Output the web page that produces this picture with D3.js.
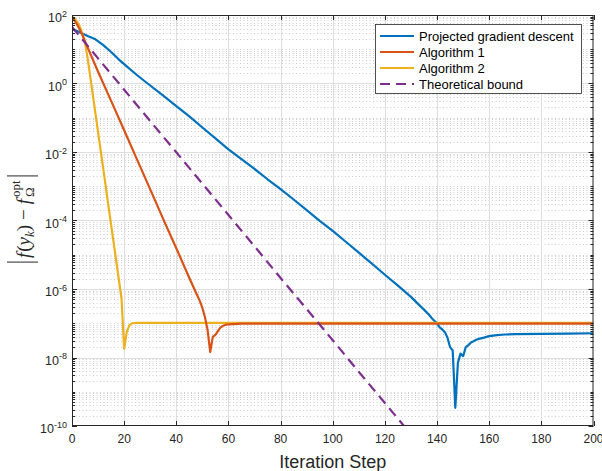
<!DOCTYPE html>
<html>
<head>
<meta charset="utf-8">
<script src="https://cdn.jsdelivr.net/npm/d3@7"></script>
<style>
body { margin: 0; background: #fff; }
svg { display: block; font-family: "Liberation Sans", Arial, Helvetica, sans-serif; }
</style>
</head>
<body>
<svg id="chart" width="602" height="471"></svg>
<script>
// values
const pgdX = [0, 3, 6, 9, 12, 15, 18, 21, 25, 29, 35, 40, 45, 50, 55, 60, 65, 70, 75, 80, 85, 90, 95, 100,
  105, 110, 115, 120, 125, 130, 133, 135, 137, 138, 139, 140, 141, 142, 143, 144, 145, 146, 147, 148, 149,
  150, 151, 152, 153, 154, 155, 156, 158, 160, 163, 166, 170, 180, 190, 200];
const pgdY = [3.8e1, 3.16e1, 2.45e1, 1.95e1, 1.32e1, 8.3e0, 5.0e0, 3.16e0, 1.74e0, 1.0e0, 4.4e-1, 2.2e-1,
  1.1e-1, 5.2e-2, 2.5e-2, 1.2e-2, 6.2e-3, 3.2e-3, 1.6e-3, 8.3e-4, 4.1e-4, 2.0e-4, 9.8e-5, 5.0e-5,
  2.4e-5, 1.15e-5, 5.5e-6, 2.6e-6, 1.26e-6, 5.9e-7, 3.5e-7, 2.5e-7, 1.74e-7, 1.4e-7, 1.17e-7, 1.0e-7,
  7.6e-8, 6.6e-8, 5.5e-8, 3.8e-8, 2.0e-8, 1.6e-8, 3.4e-10, 7.1e-9, 1.3e-8,
  1.1e-8, 2.0e-8, 2.3e-8, 2.75e-8, 3.0e-8, 3.3e-8, 3.5e-8, 3.8e-8, 4.2e-8, 4.5e-8, 4.7e-8, 4.8e-8, 4.9e-8, 5.0e-8, 5.1e-8];

const alg1X = [0, 1, 2, 3, 4, 5, 10, 15, 20, 25, 30, 35, 40, 45, 48, 49, 50, 51, 52, 53, 54, 55, 56, 57, 58, 59, 60, 65, 200];
const alg1Y = [8.3e1, 6.9e1, 5.2e1, 3.7e1, 2.6e1, 1.7e1, 2.2e0, 3.1e-1, 4.3e-2, 5.9e-3, 8.1e-4, 1.1e-4,
  1.55e-5, 2.1e-6, 6.6e-7, 4.5e-7, 2.8e-7, 1.5e-7, 6.3e-8, 1.45e-8, 4.0e-8, 4.6e-8, 6.0e-8, 7.6e-8,
  8.5e-8, 9.1e-8, 9.3e-8, 9.7e-8, 9.7e-8];

const alg2X = [0, 1, 2, 3, 4, 5, 6, 8, 10, 12, 14, 16, 18, 19, 20, 21, 22, 23, 25, 200];
const alg2Y = [8.9e1, 7.8e1, 6.3e1, 4.6e1, 2.8e1, 1.5e1, 5.5e0, 4.6e-1, 3.8e-2, 3.2e-3, 2.6e-4, 2.2e-5,
  1.8e-6, 5.2e-7, 1.8e-8, 5.6e-8, 8.7e-8, 1.0e-7, 1.02e-7, 1.02e-7];

const boundX = [0, 10, 20, 30, 40, 50, 60, 70, 80, 90, 100, 110, 120, 130];
const boundY = [4.5e1, 5.4e0, 6.6e-1, 8.0e-2, 9.8e-3, 1.19e-3, 1.45e-4, 1.76e-5, 2.1e-6, 2.6e-7, 3.2e-8,
  3.8e-9, 4.7e-10, 5.7e-11];

const seriesNames = ["Projected gradient descent", "Algorithm 1", "Algorithm 2", "Theoretical bound"];
const seriesColors = ["#0072BD", "#D95319", "#EDB120", "#7E2F8E"];
const xTicks = [0, 20, 40, 60, 80, 100, 120, 140, 160, 180, 200];
const yTickExps = [2, 0, -2, -4, -6, -8, -10];

const svg = d3.select("#chart");
const plotLeft = 72, plotRight = 593.5, plotTop = 15, plotBottom = 426;

const x = d3.scaleLinear().domain([0, 200]).range([plotLeft, plotRight]);
const y = d3.scaleLog().domain([1e-10, 1e2]).range([plotBottom, plotTop]);

// minor positions on the log axis: 2..9 in every decade, plus the odd decades
let minorVals = [];
for (let e = -10; e < 2; e++) {
  if (e % 2 !== 0) minorVals.push(Math.pow(10, e));
  for (let k = 2; k <= 9; k++) minorVals.push(k * Math.pow(10, e));
}

let grid = svg.append("g");
grid.selectAll(".minor")
  .data(minorVals)
  .join("line")
  .attr("x1", plotLeft).attr("x2", plotRight)
  .attr("y1", (d) => Math.round(y(d)) + 0.5).attr("y2", (d) => Math.round(y(d)) + 0.5)
  .attr("stroke", "#cccccc")
  .attr("stroke-width", 1)
  .attr("stroke-dasharray", "1,2.5");

grid.selectAll(".vmajor")
  .data(xTicks.slice(1, -1))
  .join("line")
  .attr("x1", (d) => Math.round(x(d)) + 0.5).attr("x2", (d) => Math.round(x(d)) + 0.5)
  .attr("y1", plotTop).attr("y2", plotBottom)
  .attr("stroke", "#dedede");

grid.selectAll(".hmajor")
  .data(yTickExps.slice(1, -1))
  .join("line")
  .attr("x1", plotLeft).attr("x2", plotRight)
  .attr("y1", (d) => Math.round(y(Math.pow(10, d))) + 0.5).attr("y2", (d) => Math.round(y(Math.pow(10, d))) + 0.5)
  .attr("stroke", "#dedede");

svg.append("clipPath").attr("id", "plotclip")
  .append("rect").attr("x", plotLeft).attr("y", plotTop)
  .attr("width", plotRight - plotLeft).attr("height", plotBottom - plotTop);

let line = d3.line()
  .x((d) => x(d[0]))
  .y((d) => y(d[1]));

let plot = svg.append("g").attr("clip-path", "url(#plotclip)");

let series = [
  { xs: pgdX, ys: pgdY, color: seriesColors[0], dash: null },
  { xs: alg2X, ys: alg2Y, color: seriesColors[2], dash: null },
  { xs: alg1X, ys: alg1Y, color: seriesColors[1], dash: null },
  { xs: boundX, ys: boundY, color: seriesColors[3], dash: "10,6" }
];

series.forEach((s) => {
  plot.append("path")
    .attr("d", line(d3.zip(s.xs, s.ys)))
    .attr("fill", "none")
    .attr("stroke", s.color)
    .attr("stroke-width", 2.2)
    .attr("stroke-linejoin", "round")
    .attr("stroke-dasharray", s.dash);
});

// axes box and ticks
let axis = svg.append("g").attr("stroke", "#262626").attr("stroke-width", 1);
axis.append("rect")
  .attr("x", plotLeft + 0.5).attr("y", plotTop + 0.5)
  .attr("width", plotRight - plotLeft - 1).attr("height", plotBottom - plotTop - 1)
  .attr("fill", "none");

xTicks.forEach((t) => {
  let px = Math.round(x(t)) + 0.5;
  axis.append("line").attr("x1", px).attr("x2", px).attr("y1", plotBottom).attr("y2", plotBottom - 5);
  axis.append("line").attr("x1", px).attr("x2", px).attr("y1", plotTop).attr("y2", plotTop + 5);
});

minorVals.forEach((v) => {
  let py = Math.round(y(v)) + 0.5;
  axis.append("line").attr("x1", plotLeft).attr("x2", plotLeft + 3).attr("y1", py).attr("y2", py);
  axis.append("line").attr("x1", plotRight).attr("x2", plotRight - 3).attr("y1", py).attr("y2", py);
});

yTickExps.forEach((e) => {
  let py = Math.round(y(Math.pow(10, e))) + 0.5;
  axis.append("line").attr("x1", plotLeft).attr("x2", plotLeft + 5).attr("y1", py).attr("y2", py);
  axis.append("line").attr("x1", plotRight).attr("x2", plotRight - 5).attr("y1", py).attr("y2", py);
});

// tick labels
svg.append("g")
  .selectAll("text")
  .data(xTicks)
  .join("text")
  .attr("x", (d) => x(d))
  .attr("y", 443)
  .attr("text-anchor", "middle")
  .attr("font-size", 12)
  .attr("fill", "#262626")
  .text((d) => d);

yTickExps.forEach((e) => {
  let t = svg.append("text")
    .attr("x", 67)
    .attr("y", y(Math.pow(10, e)) + 7)
    .attr("text-anchor", "end")
    .attr("font-size", 12.5)
    .attr("fill", "#262626");
  t.append("tspan").text("10");
  t.append("tspan").attr("font-size", 9).attr("dy", -5.5).text(e < 0 ? "-" + Math.abs(e) : e);
});

svg.append("text")
  .attr("x", (plotLeft + plotRight) / 2)
  .attr("y", 468)
  .attr("text-anchor", "middle")
  .attr("font-size", 18)
  .attr("fill", "#262626")
  .text("Iteration Step");

// y label: |f(y_k) - f_Ω^opt|
let yl = svg.append("g").attr("transform", "translate(30,219) rotate(-90)");
let lab = yl.append("text")
  .attr("font-family", "'Liberation Serif', 'DejaVu Serif', serif")
  .attr("font-size", 19)
  .attr("fill", "#262626");
lab.append("tspan").attr("font-style", "italic").text("f");
lab.append("tspan").attr("dx", 1).text("(");
lab.append("tspan").attr("font-style", "italic").text("y");
lab.append("tspan").attr("font-style", "italic").attr("font-size", 13).attr("dy", 4).text("k");
lab.append("tspan").attr("dy", -4).text(")");
lab.append("tspan").attr("dx", 5).text("\u2212");
lab.append("tspan").attr("dx", 5).attr("font-style", "italic").text("f");
let sup = lab.append("tspan").attr("font-size", 13).attr("dx", 2).attr("dy", -10).text("opt");
let supW = sup.node().getComputedTextLength();
lab.append("tspan").attr("font-size", 13).attr("dx", -supW).attr("dy", 14).text("\u03A9");

let bb = lab.node().getBBox();
lab.attr("x", -bb.width / 2);
bb = lab.node().getBBox();
[bb.x - 4, bb.x + bb.width + 4].forEach((bx) => {
  yl.append("line")
    .attr("x1", bx).attr("x2", bx)
    .attr("y1", -23).attr("y2", 8)
    .attr("stroke", "#262626").attr("stroke-width", 1);
});

// legend
let lg = svg.append("g");
lg.append("rect")
  .attr("x", 375.5).attr("y", 24.5)
  .attr("width", 206).attr("height", 69)
  .attr("fill", "#fff")
  .attr("stroke", "#262626")
  .attr("stroke-width", 0.8);

seriesNames.forEach((name, i) => {
  let ly = 36 + i * 16;
  lg.append("line")
    .attr("x1", 380).attr("x2", 414)
    .attr("y1", ly).attr("y2", ly)
    .attr("stroke", seriesColors[i])
    .attr("stroke-width", 2.2)
    .attr("stroke-dasharray", i === 3 ? "10,6" : null);
  lg.append("text")
    .attr("x", 419)
    .attr("y", ly + 4.5)
    .attr("font-size", 13)
    .attr("fill", "#000")
    .text(name);
});
</script>
</body>
</html>
